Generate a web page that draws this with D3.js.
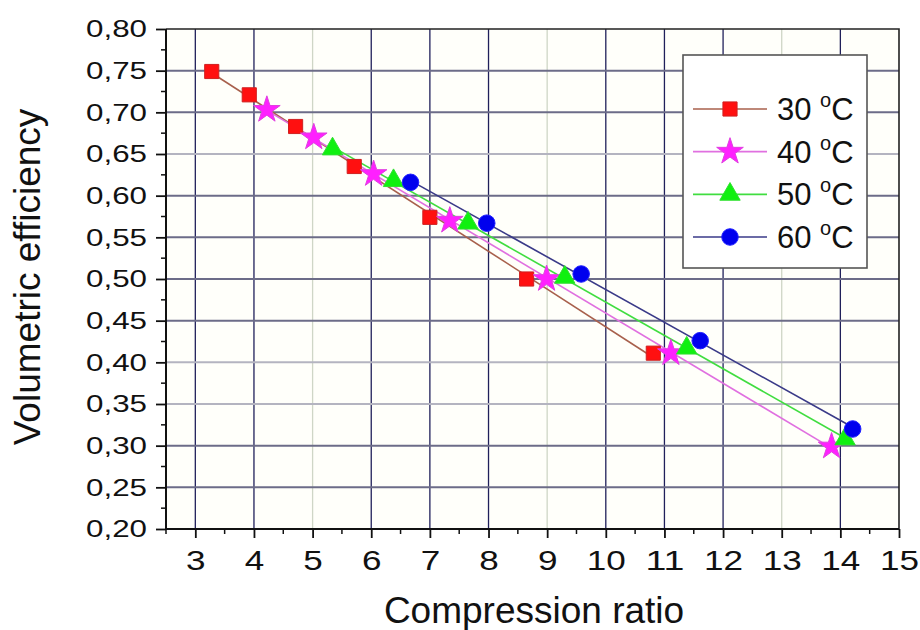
<!DOCTYPE html>
<html>
<head>
<meta charset="utf-8">
<script src="https://cdn.jsdelivr.net/npm/d3@7"></script>
<style>
  body { margin: 0; background: #fff; }
  text { font-family: "Liberation Sans", Arial, sans-serif; fill: #111; }
</style>
</head>
<body>
<svg width="920" height="630"></svg>
<script>
// data
var labels = ["30", "40", "50", "60"];
var x30 = [3.28, 3.92, 4.71, 5.71, 7.00, 8.65, 10.81];
var y30 = [0.749, 0.721, 0.683, 0.635, 0.574, 0.500, 0.411];
var x40 = [4.22, 5.02, 6.04, 7.34, 8.99, 11.11, 13.85];
var y40 = [0.703, 0.670, 0.626, 0.570, 0.500, 0.411, 0.299];
var x50 = [5.34, 6.38, 7.65, 9.30, 11.38, 14.08];
var y50 = [0.656, 0.618, 0.567, 0.502, 0.417, 0.308];
var x60 = [6.67, 7.97, 9.58, 11.61, 14.21];
var y60 = [0.616, 0.567, 0.506, 0.426, 0.320];
var xTicks = [3, 4, 5, 6, 7, 8, 9, 10, 11, 12, 13, 14, 15];
var yTicks = [0.20, 0.25, 0.30, 0.35, 0.40, 0.45, 0.50, 0.55, 0.60, 0.65, 0.70, 0.75, 0.80];

var svg = d3.select("svg");

var mLeft = 166, mRight = 899, mTop = 29, mBottom = 529;

var x = d3.scaleLinear().domain([2.5, 15]).range([mLeft, mRight]);
var y = d3.scaleLinear().domain([0.20, 0.80]).range([mBottom, mTop]);

var series = [
  {name: labels[0], xs: x30, ys: y30, sym: d3.symbolSquare, size: 200, fill: "#ff1010", stroke: "#d02020", line: "#a8604c"},
  {name: labels[1], xs: x40, ys: y40, sym: d3.symbolStar, size: 220, fill: "#ff20ff", stroke: "#e040e0", line: "#e070e0"},
  {name: labels[2], xs: x50, ys: y50, sym: d3.symbolTriangle, size: 180, fill: "#10f010", stroke: "#30e030", line: "#40dd40"},
  {name: labels[3], xs: x60, ys: y60, sym: d3.symbolCircle, size: 215, fill: "#0000ee", stroke: "#2020ff", line: "#3a3a88"}
];

// plot background
svg.append("rect")
  .attr("x", mLeft).attr("y", mTop)
  .attr("width", mRight - mLeft).attr("height", mBottom - mTop)
  .attr("fill", "#fffffa");

// grid
var lightX = [5, 9, 13];
var lightY = [0.35, 0.40, 0.65];
svg.append("g").selectAll("line")
  .data(xTicks.filter(d => d > 2.5 && d < 15))
  .enter().append("line")
  .attr("x1", d => x(d)).attr("x2", d => x(d))
  .attr("y1", mTop).attr("y2", mBottom)
  .attr("stroke", d => lightX.includes(d) ? "#cfd6c6" : "#20205a")
  .attr("stroke-width", 1.3);
svg.append("g").selectAll("line")
  .data(yTicks.filter(d => d > 0.2 && d < 0.8))
  .enter().append("line")
  .attr("x1", mLeft).attr("x2", mRight)
  .attr("y1", d => y(d)).attr("y2", d => y(d))
  .attr("stroke", d => lightY.some(v => Math.abs(v - d) < 1e-6) ? "#b4b4c0" : "#6c6c88")
  .attr("stroke-width", 2);

// frame (top and right)
svg.append("path")
  .attr("d", `M${mLeft},${mTop}H${mRight}V${mBottom}`)
  .attr("fill", "none").attr("stroke", "#222").attr("stroke-width", 1.6);

// axes
var xAxis = d3.axisBottom(x).tickValues(xTicks).tickSize(9).tickPadding(12).tickFormat(d3.format("d"));
var xAxisGroup = svg.append("g").attr("transform", `translate(0, ${mBottom})`).call(xAxis);
xAxisGroup.select(".domain").attr("stroke", "#111").attr("stroke-width", 2).attr("d", `M${mLeft},0H${mRight}`);
xAxisGroup.selectAll(".tick line").attr("stroke", "#111").attr("stroke-width", 1.8);
xAxisGroup.selectAll("text")
  .attr("font-size", 28).attr("font-family", "Liberation Sans, Arial, sans-serif").attr("fill", "#111")
  .attr("textLength", d => String(d).length * 19.5)
  .attr("lengthAdjust", "spacingAndGlyphs");

var xMinor = d3.range(2.5, 15.01, 1);
xAxisGroup.selectAll(".minor").data(xMinor).enter().append("line")
  .attr("x1", d => x(d)).attr("x2", d => x(d))
  .attr("y1", 0).attr("y2", 5)
  .attr("stroke", "#111").attr("stroke-width", 1.5);

var yAxis = d3.axisLeft(y).tickValues(yTicks).tickSize(10).tickPadding(9)
  .tickFormat(d => d3.format(".2f")(d).replace(".", ","));
var yAxisGroup = svg.append("g").attr("transform", `translate(${mLeft}, 0)`).call(yAxis);
yAxisGroup.select(".domain").attr("stroke", "#111").attr("stroke-width", 2).attr("d", `M0,${mTop}V${mBottom}`);
yAxisGroup.selectAll(".tick line").attr("stroke", "#111").attr("stroke-width", 1.8);
yAxisGroup.selectAll("text")
  .attr("font-size", 24).attr("font-family", "Liberation Sans, Arial, sans-serif").attr("fill", "#111")
  .attr("textLength", 61)
  .attr("lengthAdjust", "spacingAndGlyphs");

var yMinor = d3.range(0.225, 0.8, 0.05);
yAxisGroup.selectAll(".minor").data(yMinor).enter().append("line")
  .attr("x1", -5).attr("x2", 0)
  .attr("y1", d => y(d)).attr("y2", d => y(d))
  .attr("stroke", "#111").attr("stroke-width", 1.5);

// axis titles
svg.append("text")
  .attr("x", 534).attr("y", 623)
  .attr("text-anchor", "middle").attr("font-size", 37)
  .text("Compression ratio");
svg.append("text")
  .attr("transform", "translate(40, 277) rotate(-90)")
  .attr("text-anchor", "middle").attr("font-size", 37)
  .attr("fill", "#333")
  .text("Volumetric efficiency");

// linear fit lines
function fit(xs, ys) {
  var mx = d3.mean(xs), my = d3.mean(ys);
  var sxy = d3.sum(xs, (v, i) => (v - mx) * (ys[i] - my));
  var sxx = d3.sum(xs, v => (v - mx) * (v - mx));
  var b = sxy / sxx;
  return {a: my - b * mx, b: b};
}

var plot = svg.append("g");
series.forEach(s => {
  var f = fit(s.xs, s.ys);
  var ends = d3.extent(s.xs);
  plot.append("line")
    .attr("x1", x(ends[0])).attr("y1", y(f.a + f.b * ends[0]))
    .attr("x2", x(ends[1])).attr("y2", y(f.a + f.b * ends[1]))
    .attr("stroke", s.line).attr("stroke-width", 1.6);
});

series.forEach(s => {
  plot.append("g").selectAll("path")
    .data(s.xs.map((v, i) => [v, s.ys[i]]))
    .enter().append("path")
    .attr("d", d3.symbol().type(s.sym).size(s.size))
    .attr("transform", d => `translate(${x(d[0])},${y(d[1])})`)
    .attr("fill", s.fill).attr("stroke", s.stroke).attr("stroke-width", 1);
});

// legend
var legend = svg.append("g");
legend.append("rect")
  .attr("x", 683).attr("y", 55).attr("width", 184).attr("height", 213)
  .attr("fill", "#fff").attr("stroke", "#555").attr("stroke-width", 1.6);

var rowY = d3.scalePoint().domain(labels).range([109, 237]);
series.forEach(s => {
  var cy = rowY(s.name);
  legend.append("line")
    .attr("x1", 693).attr("x2", 767).attr("y1", cy).attr("y2", cy)
    .attr("stroke", s.line).attr("stroke-width", 1.6);
  legend.append("path")
    .attr("d", d3.symbol().type(s.sym).size(s.size))
    .attr("transform", `translate(730,${cy})`)
    .attr("fill", s.fill).attr("stroke", s.stroke).attr("stroke-width", 1);
  var t = legend.append("text")
    .attr("x", 777).attr("y", cy + 11)
    .attr("font-size", 31);
  t.append("tspan").text(s.name + " ");
  t.append("tspan").attr("font-size", 20).attr("dy", -13).text("o");
  t.append("tspan").attr("dy", 13).text("C");
});
</script>
</body>
</html>
